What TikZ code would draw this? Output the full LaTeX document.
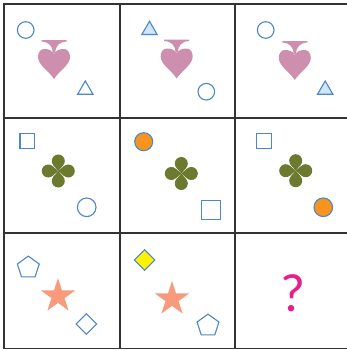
\documentclass[tikz,border=0pt]{standalone}
\usepackage{fontspec}
\newfontfamily\qfont{Carlito}
\usetikzlibrary{shapes.geometric}
\definecolor{blueline}{HTML}{4A87CB}
\definecolor{lightblue}{HTML}{CFE6F7}
\definecolor{heartpink}{HTML}{CE8FAE}
\definecolor{olive}{HTML}{6B7A2F}
\definecolor{orangefill}{HTML}{F7941D}
\definecolor{yellowfill}{HTML}{FFF200}
\definecolor{salmon}{HTML}{F89B7D}
\definecolor{magentaq}{HTML}{E91E8C}
\definecolor{gridline}{HTML}{333333}
\tikzset{
  gridstyle/.style={draw=gridline, line width=1.5pt},
  outl/.style={draw=blueline, line width=1.1pt, inner sep=0pt, outer sep=0pt},
  circ/.style={outl, circle, minimum size=#1},
  sq/.style={outl, rectangle, minimum size=#1},
  tri/.style={outl, regular polygon, regular polygon sides=3, minimum size=17.7pt},
  pent/.style={outl, regular polygon, regular polygon sides=5, minimum size=23pt},
  diam/.style={outl, diamond, minimum size=20.5pt},
  starshape/.style={star, star points=5, star point ratio=2.618, minimum size=36pt, inner sep=0pt, fill=salmon, draw=none},
  pics/invspade/.style={code={
    \fill[heartpink] (0,-6) .. controls (-2,-10) and (-6,-11) .. (-10,-11)
      .. controls (-14,-11) and (-16,-7) .. (-16,-3)
      .. controls (-16,5) and (-5,11) .. (0,19)
      .. controls (5,11) and (16,5) .. (16,-3)
      .. controls (16,-7) and (14,-11) .. (10,-11)
      .. controls (6,-11) and (2,-10) .. (0,-6) -- cycle;
    \fill[heartpink] (-1,-7) .. controls (-1.5,-14) and (-5,-18) .. (-12.5,-18.5)
      -- (-12.5,-20) -- (12.5,-20) -- (12.5,-18.5)
      .. controls (5,-18) and (1.5,-14) .. (1,-7) -- cycle;
  }},
  pics/clover/.style={code={
    \fill[olive] (0,-10) circle (6.5) (0,10) circle (6.5) (-10,0) circle (6.5) (10,0) circle (6.5);
    \fill[olive] (0,0) -- (-4.94,-5.78) -- (4.94,-5.78) -- cycle;
    \fill[olive] (0,0) -- (-4.94,5.78) -- (4.94,5.78) -- cycle;
    \fill[olive] (0,0) -- (-5.78,-4.94) -- (-5.78,4.94) -- cycle;
    \fill[olive] (0,0) -- (5.78,-4.94) -- (5.78,4.94) -- cycle;
  }}
}
\begin{document}
\begin{tikzpicture}[x=1pt, y=-1pt]
\useasboundingbox (0,0) rectangle (346,351);
\fill[white] (0,0) rectangle (346,351);
% grid
\draw[gridstyle] (4,4) rectangle (350,348.5);
\draw[gridstyle] (120,4) -- (120,348.5) (235,4) -- (235,348.5);
\draw[gridstyle] (4,118) -- (350,118) (4,233) -- (350,233);
% row 1
\node[circ=16.6pt] (c11) at (25.7,30) {};
\pic at (54,60) {invspade};
\node[tri, fill=white] (t11) at (85.3,89.8) {};
\node[tri, fill=lightblue] (t12) at (149.5,30.1) {};
\pic at (176.7,59.5) {invspade};
\node[circ=16.6pt] (c12) at (206.3,91.7) {};
\node[circ=16.6pt] (c13) at (265.7,30) {};
\pic at (294.8,61) {invspade};
\node[tri, fill=lightblue] (t13) at (325.2,89.8) {};
% row 2
\node[sq=14.7pt] (s21) at (27.3,141) {};
\pic at (58.3,171) {clover};
\node[circ=18.6pt] (c21) at (86.7,207.3) {};
\node[circ=18pt, fill=orangefill] (c22) at (143.7,141.7) {};
\pic at (181.3,173.5) {clover};
\node[sq=18.7pt] (s22) at (210.7,209.7) {};
\node[sq=15pt] (s23) at (264,140.8) {};
\pic at (295.7,170.7) {clover};
\node[circ=18.6pt, fill=orangefill] (c23) at (323.3,207.3) {};
% row 3
\node[pent] (p31) at (28.3,267.6) {};
\node[starshape] (st31) at (58,296) {};
\node[diam] (d31) at (86.3,324) {};
\node[diam, fill=yellowfill] (d32) at (144.7,260) {};
\node[starshape] (st32) at (172,299) {};
\node[pent] (p32) at (208,325.6) {};
\node[anchor=base, inner sep=0pt, text=magentaq, font=\qfont\fontsize{54}{54}\selectfont] (q33) at (293,311.7) {?};
\end{tikzpicture}
\end{document}
